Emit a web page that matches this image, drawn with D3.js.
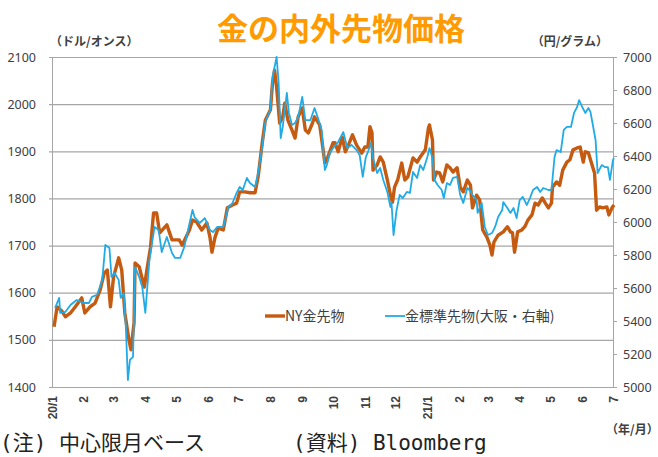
<!DOCTYPE html>
<html lang="ja">
<head>
<meta charset="UTF-8">
<title>金の内外先物価格</title>
<script src="https://d3js.org/d3.v7.min.js"></script>
<style>
  body { margin: 0; background: #fff; }
  svg { display: block; }
  text { font-family: "Noto Sans CJK JP", "Noto Sans", sans-serif; }
</style>
</head>
<body>
<div id="chart"></div>
<script>
// ---- data ----
const nyDates = ["2020-01-03","2020-01-06","2020-01-11","2020-01-14","2020-01-19","2020-01-23","2020-01-30","2020-02-02","2020-02-07","2020-02-12","2020-02-17","2020-02-21","2020-02-24","2020-02-27","2020-03-01","2020-03-06","2020-03-09","2020-03-12","2020-03-16","2020-03-18","2020-03-21","2020-03-22","2020-03-26","2020-03-31","2020-04-03","2020-04-06","2020-04-09","2020-04-12","2020-04-15","2020-04-22","2020-04-27","2020-05-04","2020-05-07","2020-05-14","2020-05-17","2020-05-21","2020-05-26","2020-05-31","2020-06-03","2020-06-05","2020-06-08","2020-06-11","2020-06-16","2020-06-20","2020-06-25","2020-06-29","2020-07-02","2020-07-07","2020-07-12","2020-07-17","2020-07-20","2020-07-24","2020-07-27","2020-08-01","2020-08-03","2020-08-05","2020-08-07","2020-08-10","2020-08-13","2020-08-15","2020-08-18","2020-08-22","2020-08-25","2020-08-28","2020-09-01","2020-09-04","2020-09-07","2020-09-11","2020-09-13","2020-09-18","2020-09-21","2020-09-23","2020-09-26","2020-10-01","2020-10-03","2020-10-06","2020-10-10","2020-10-13","2020-10-16","2020-10-20","2020-10-24","2020-10-29","2020-11-01","2020-11-04","2020-11-06","2020-11-08","2020-11-09","2020-11-13","2020-11-16","2020-11-19","2020-11-23","2020-11-26","2020-11-28","2020-11-30","2020-12-03","2020-12-07","2020-12-10","2020-12-13","2020-12-18","2020-12-22","2020-12-25","2020-12-30","2021-01-02","2021-01-03","2021-01-06","2021-01-07","2021-01-10","2021-01-13","2021-01-16","2021-01-20","2021-01-23","2021-01-26","2021-01-30","2021-02-02","2021-02-05","2021-02-09","2021-02-12","2021-02-14","2021-02-18","2021-02-21","2021-02-24","2021-02-28","2021-03-03","2021-03-05","2021-03-07","2021-03-11","2021-03-16","2021-03-20","2021-03-23","2021-03-25","2021-03-27","2021-03-30","2021-04-03","2021-04-06","2021-04-09","2021-04-13","2021-04-16","2021-04-19","2021-04-23","2021-04-26","2021-04-29","2021-05-02","2021-05-03","2021-05-07","2021-05-10","2021-05-13","2021-05-17","2021-05-20","2021-05-23","2021-05-27","2021-05-30","2021-06-02","2021-06-04","2021-06-07","2021-06-10","2021-06-13","2021-06-15","2021-06-18","2021-06-21","2021-06-25","2021-06-27","2021-06-30","2021-07-02"];
const nyValues = [1528,1570,1560,1549,1557,1568,1589,1557,1570,1578,1606,1642,1648,1570,1633,1674,1648,1557,1500,1479,1536,1663,1655,1612,1655,1695,1769,1769,1727,1744,1712,1712,1701,1733,1754,1750,1733,1748,1718,1686,1718,1737,1733,1780,1786,1790,1814,1814,1812,1812,1846,1918,1966,1988,2045,2072,2036,1960,1973,2002,1966,1945,1928,1973,1992,1945,1939,1960,1973,1956,1909,1875,1888,1918,1918,1899,1930,1899,1913,1935,1913,1896,1909,1909,1952,1939,1860,1871,1888,1877,1839,1807,1792,1824,1839,1875,1839,1846,1886,1877,1888,1903,1949,1956,1924,1839,1856,1854,1835,1871,1865,1856,1865,1824,1814,1839,1828,1780,1807,1797,1733,1718,1701,1680,1708,1722,1729,1740,1729,1727,1686,1729,1733,1740,1754,1765,1790,1786,1801,1790,1780,1790,1824,1835,1828,1860,1877,1882,1903,1907,1909,1877,1899,1897,1875,1854,1775,1782,1780,1782,1765,1780,1786];

const osakaDates = ["2020-01-04","2020-01-08","2020-01-09","2020-01-14","2020-01-19","2020-01-25","2020-02-01","2020-02-06","2020-02-09","2020-02-14","2020-02-19","2020-02-22","2020-02-26","2020-02-28","2020-03-02","2020-03-06","2020-03-08","2020-03-11","2020-03-13","2020-03-15","2020-03-17","2020-03-20","2020-03-22","2020-03-26","2020-03-29","2020-04-01","2020-04-05","2020-04-07","2020-04-10","2020-04-14","2020-04-17","2020-04-22","2020-04-27","2020-04-30","2020-05-05","2020-05-09","2020-05-12","2020-05-17","2020-05-19","2020-05-24","2020-05-29","2020-06-03","2020-06-06","2020-06-10","2020-06-16","2020-06-21","2020-06-25","2020-06-29","2020-07-02","2020-07-05","2020-07-09","2020-07-12","2020-07-17","2020-07-20","2020-07-24","2020-07-27","2020-08-01","2020-08-03","2020-08-07","2020-08-09","2020-08-11","2020-08-13","2020-08-17","2020-08-19","2020-08-22","2020-08-25","2020-08-28","2020-09-01","2020-09-04","2020-09-09","2020-09-13","2020-09-16","2020-09-20","2020-09-23","2020-09-25","2020-09-28","2020-10-01","2020-10-06","2020-10-11","2020-10-15","2020-10-19","2020-10-24","2020-10-27","2020-10-30","2020-11-02","2020-11-04","2020-11-07","2020-11-09","2020-11-13","2020-11-16","2020-11-19","2020-11-23","2020-11-26","2020-11-27","2020-11-29","2020-12-02","2020-12-05","2020-12-08","2020-12-12","2020-12-15","2020-12-18","2020-12-22","2020-12-25","2020-12-28","2021-01-01","2021-01-03","2021-01-06","2021-01-08","2021-01-11","2021-01-15","2021-01-17","2021-01-20","2021-01-23","2021-01-26","2021-01-30","2021-02-02","2021-02-05","2021-02-09","2021-02-12","2021-02-14","2021-02-18","2021-02-19","2021-02-23","2021-02-26","2021-03-01","2021-03-05","2021-03-08","2021-03-11","2021-03-15","2021-03-16","2021-03-20","2021-03-23","2021-03-26","2021-03-29","2021-04-01","2021-04-04","2021-04-08","2021-04-11","2021-04-14","2021-04-18","2021-04-21","2021-04-24","2021-04-29","2021-05-02","2021-05-05","2021-05-07","2021-05-11","2021-05-14","2021-05-17","2021-05-21","2021-05-24","2021-05-27","2021-05-29","2021-06-01","2021-06-04","2021-06-07","2021-06-09","2021-06-11","2021-06-14","2021-06-16","2021-06-20","2021-06-23","2021-06-26","2021-06-28","2021-07-01","2021-07-02"];
const osakaValues = [5479,5540,5449,5455,5497,5527,5509,5509,5546,5558,5649,5861,5843,5667,5691,5649,5540,5570,5364,5042,5164,5182,5727,5667,5606,5449,5770,5849,5970,5952,5818,5909,5812,5782,5782,5849,5933,6073,6030,5994,6024,5952,5939,5970,5970,6091,6115,6176,6212,6194,6267,6236,6212,6297,6455,6606,6679,6879,7000,6842,6509,6576,6782,6661,6588,6600,6636,6758,6618,6618,6691,6636,6558,6315,6345,6418,6448,6485,6545,6448,6467,6436,6406,6273,6394,6424,6479,6388,6297,6327,6255,6182,6091,6121,5921,6073,6164,6145,6182,6176,6303,6267,6345,6315,6394,6448,6388,6255,6224,6194,6145,6236,6224,6267,6273,6164,6115,6206,6188,6164,6133,6055,6115,5970,5921,5933,5970,6030,6073,6121,6085,6055,6085,6024,6133,6152,6103,6145,6194,6212,6182,6206,6194,6194,6394,6436,6424,6558,6576,6576,6661,6697,6739,6697,6661,6691,6667,6600,6497,6297,6345,6333,6333,6255,6376,6388];

const leftTicks = [1400, 1500, 1600, 1700, 1800, 1900, 2000, 2100];
const rightTicks = [5000, 5200, 5400, 5600, 5800, 6000, 6200, 6400, 6600, 6800, 7000];
const xTickLabels = ["20/1","2","3","4","5","6","7","8","9","10","11","12","21/1","2","3","4","5","6","7"];

const seriesNames = ["NY金先物", "金標準先物(大阪・右軸)"];

// ---- layout ----
const W = 658, H = 457;
const margin = { top: 57, right: 45, bottom: 70, left: 52 };
const width = W - margin.left - margin.right;
const height = H - margin.top - margin.bottom;
const orange = "#C55A11";
const blue = "#21ABE6";
const grid = "#A6A6A6";
const labelColor = "#404040";

const parse = d3.timeParse("%Y-%m-%d");
const ny = nyDates.map((d, i) => ({ date: parse(d), value: nyValues[i] }));
const osaka = osakaDates.map((d, i) => ({ date: parse(d), value: osakaValues[i] }));
const tickDates = d3.timeMonth.range(parse("2020-01-01"), parse("2021-07-02"));

const svg = d3.select("#chart").append("svg")
  .attr("width", W)
  .attr("height", H);

const g = svg.append("g")
  .attr("transform", `translate(${margin.left},${margin.top})`);

const x = d3.scaleTime()
  .domain([parse("2020-01-01"), parse("2021-07-01")])
  .range([0, width]);

const yL = d3.scaleLinear().domain([1400, 2100]).range([height, 0]);
const yR = d3.scaleLinear().domain([5000, 7000]).range([height, 0]);

// left axis + gridlines
const leftAxis = g.append("g")
  .call(d3.axisLeft(yL).tickValues(leftTicks).tickSize(-width).tickPadding(16)
    .tickFormat(d3.format("d")));
leftAxis.select(".domain").attr("stroke", grid);
leftAxis.selectAll(".tick line").attr("stroke", grid).attr("stroke-width", 1.2).attr("x1", -3);
leftAxis.selectAll(".tick text")
  .attr("fill", labelColor)
  .style("font-family", "'Noto Sans', sans-serif")
  .style("font-size", "12.5px");

// right axis
const rightAxis = g.append("g")
  .attr("transform", `translate(${width},0)`)
  .call(d3.axisRight(yR).tickValues(rightTicks).tickSize(4).tickPadding(6)
    .tickFormat(d3.format("d")));
rightAxis.select(".domain").attr("stroke", grid);
rightAxis.selectAll(".tick line").attr("stroke", grid);
rightAxis.selectAll(".tick text")
  .attr("fill", labelColor)
  .style("font-family", "'Noto Sans', sans-serif")
  .style("font-size", "12.5px");

// bottom axis
const bottomAxis = g.append("g")
  .attr("transform", `translate(0,${height})`)
  .call(d3.axisBottom(x).tickValues(tickDates).tickSize(0)
    .tickFormat((d, i) => xTickLabels[i]));
bottomAxis.select(".domain").attr("stroke", grid).attr("stroke-width", 1.2);
bottomAxis.selectAll(".tick text")
  .attr("transform", "rotate(-90)")
  .attr("text-anchor", "end")
  .attr("x", -9)
  .attr("y", 0)
  .attr("dy", "0.35em")
  .attr("fill", labelColor)
  .style("font-family", "'Liberation Sans', sans-serif")
  .style("font-weight", "bold")
  .style("font-size", "12px");

// lines
const lineL = d3.line().x(d => x(d.date)).y(d => yL(d.value));
const lineR = d3.line().x(d => x(d.date)).y(d => yR(d.value));

g.append("path")
  .datum(ny)
  .attr("fill", "none")
  .attr("stroke", orange)
  .attr("stroke-width", 3.4)
  .attr("stroke-linejoin", "round")
  .attr("d", lineL);

g.append("path")
  .datum(osaka)
  .attr("fill", "none")
  .attr("stroke", blue)
  .attr("stroke-width", 1.8)
  .attr("stroke-linejoin", "round")
  .attr("d", lineR);

// legend
const legend = svg.append("g").attr("transform", "translate(265,316)");
const legendItems = [
  { name: seriesNames[0], color: orange, w: 3.4, x: 0 },
  { name: seriesNames[1], color: blue, w: 1.8, x: 120 }
];
legendItems.forEach(it => {
  legend.append("line")
    .attr("x1", it.x).attr("x2", it.x + 20)
    .attr("y1", 0).attr("y2", 0)
    .attr("stroke", it.color).attr("stroke-width", it.w);
  legend.append("text")
    .attr("x", it.x + 20).attr("y", 0)
    .attr("dy", "0.35em")
    .attr("fill", labelColor)
    .style("font-size", "14px")
    .text(it.name);
});

// title and unit labels
svg.append("text")
  .attr("x", 341).attr("y", 40)
  .attr("text-anchor", "middle")
  .attr("fill", "#FF9A00")
  .style("font-size", "31px")
  .style("font-weight", "bold")
  .text("金の内外先物価格");

svg.append("text")
  .attr("x", 50).attr("y", 46)
  .attr("fill", labelColor)
  .style("font-size", "12px")
  .style("font-weight", "bold")
  .text("（ドル/オンス）");

svg.append("text")
  .attr("x", 608).attr("y", 46)
  .attr("text-anchor", "end")
  .attr("fill", labelColor)
  .style("font-size", "12px")
  .style("font-weight", "bold")
  .text("（円/グラム）");

svg.append("text")
  .attr("x", 606).attr("y", 434)
  .attr("fill", labelColor)
  .style("font-size", "12px")
  .style("font-weight", "bold")
  .text("（年/月）");

// footnotes
svg.append("text")
  .attr("x", 0).attr("y", 450)
  .attr("fill", "#222")
  .style("font-family", "'DejaVu Sans Mono', 'Noto Sans CJK JP', monospace")
  .style("font-size", "21px")
  .text("(注) 中心限月ベース");

svg.append("text")
  .attr("x", 293).attr("y", 450)
  .attr("fill", "#222")
  .style("font-family", "'DejaVu Sans Mono', 'Noto Sans CJK JP', monospace")
  .style("font-size", "21px")
  .text("(資料) Bloomberg");
</script>
</body>
</html>
